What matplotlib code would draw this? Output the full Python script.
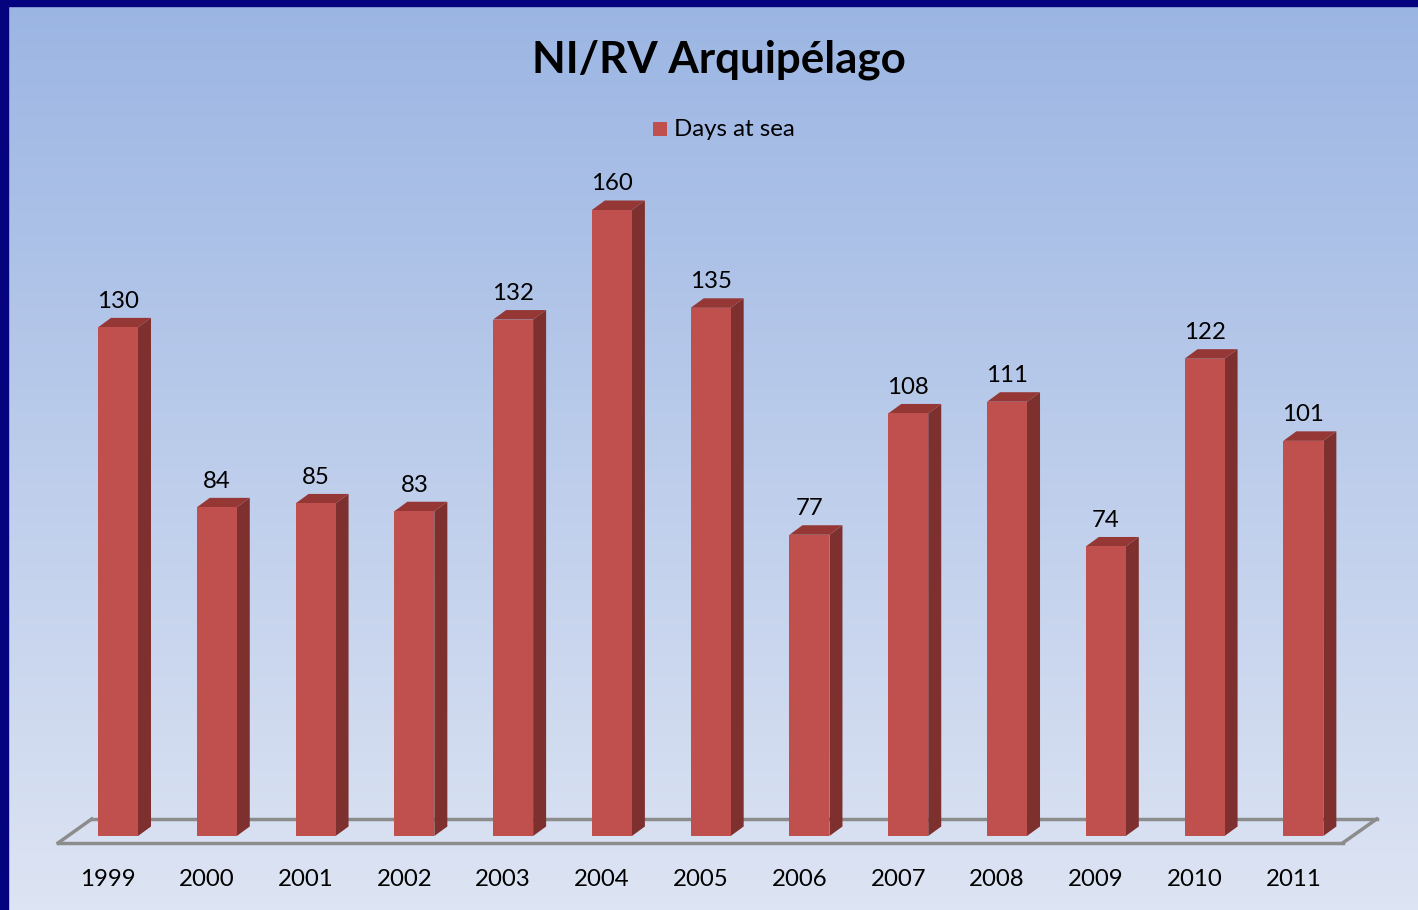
import numpy as np
import matplotlib
matplotlib.use("Agg")
import matplotlib.pyplot as plt
from matplotlib.patches import Polygon, Rectangle
from matplotlib.lines import Line2D

# ---- data ----
years = ["1999", "2000", "2001", "2002", "2003", "2004", "2005",
         "2006", "2007", "2008", "2009", "2010", "2011"]
days_at_sea = [130, 84, 85, 83, 132, 160, 135, 77, 108, 111, 74, 122, 101]
series_name = "Days at sea"
title = "NI/RV Arquipélago"

FONT = ["Lato", "DejaVu Sans"]
plt.rcParams["font.family"] = FONT

W, H, DPI = 1418, 910, 100
fig = plt.figure(figsize=(W / DPI, H / DPI), dpi=DPI)

# gradient background
bg = fig.add_axes([0, 0, 1, 1], zorder=0)
top = np.array([155, 181, 227]) / 255
bot = np.array([221, 228, 243]) / 255
t = np.linspace(0, 1, 256)[:, None]
grad = top[None, :] * (1 - t) + bot[None, :] * t
bg.imshow(grad[:, None, :], aspect="auto", extent=[0, 1, 0, 1])
bg.set_xlim(0, 1); bg.set_ylim(0, 1)
bg.axis("off")
# navy border on top and left
bg.add_patch(Rectangle((0, 1 - 6 / H), 1, 6 / H, color="#06037F", transform=bg.transAxes, zorder=5))
bg.add_patch(Rectangle((0, 0), 8 / W, 1, color="#06037F", transform=bg.transAxes, zorder=5))

# main axes covering the figure; data mapped to pixel layout
ax = fig.add_axes([0, 0, 1, 1], zorder=1)
ax.patch.set_alpha(0)
ppu_x = 98.78
ppu_y = 3.9125
x0_px, y0_px = 118, 836  # pixel of index 0 / value 0 (from top)
ax.set_xlim(-x0_px / ppu_x, (W - x0_px) / ppu_x)
ax.set_ylim(-(H - y0_px) / ppu_y, y0_px / ppu_y)
ax.axis("off")

n = len(years)
x = np.arange(n)
bw = 40 / ppu_x
dx = 13 / ppu_x
dy = 9.5 / ppu_y

# floor
fl_front = -7 / ppu_y
fl_back = 17 / ppu_y
fl = [(-0.607, fl_front), (n - 1 + 0.398, fl_front),
      (n - 1 + 0.742, fl_back), (-0.266, fl_back)]
floor_col = "#8C8C8C"
ax.add_line(Line2D([fl[3][0], fl[2][0]], [fl_back, fl_back], color=floor_col, lw=2.5, zorder=2))
ax.add_line(Line2D([fl[0][0], fl[3][0]], [fl_front, fl_back], color=floor_col, lw=2.5, zorder=2))
ax.add_line(Line2D([fl[1][0], fl[2][0]], [fl_front, fl_back], color=floor_col, lw=2.5, zorder=2))
ax.add_line(Line2D([fl[0][0], fl[1][0]], [fl_front, fl_front], color=floor_col, lw=2.5, zorder=6))

front_c = "#C0504D"
top_c = "#953735"
side_c = "#7E302E"
FS = 17.3
bars = ax.bar(x, days_at_sea, width=bw, color=front_c, zorder=4, linewidth=0)
for xi, v in zip(x, days_at_sea):
    l, r = xi - bw / 2, xi + bw / 2
    ax.add_patch(Polygon([(r, 0), (r + dx, dy), (r + dx, v + dy), (r, v)],
                         closed=True, facecolor=side_c, edgecolor="none", zorder=3))
    ax.add_patch(Polygon([(l, v), (r, v), (r + dx, v + dy), (l + dx, v + dy)],
                         closed=True, facecolor=top_c, edgecolor="none", zorder=3))
    ax.annotate(str(v), (xi, v + dy), xytext=(0, 7.2), textcoords="offset points",
                ha="center", va="baseline", fontsize=FS, color="black", zorder=7)

# category labels
for xi, lab in zip(x, years):
    ax.annotate(lab, (xi - 0.1, 0), xytext=(0, -36), textcoords="offset points",
                ha="center", va="baseline", fontsize=FS, color="black")

# title
fig.text(719 / W, 1 - 72.7 / H, title, ha="center", va="baseline",
         fontsize=31.6, fontweight="bold", color="black")

# legend
fig.patches.append(Rectangle((653 / W, 1 - 136 / H), 14 / W, 14 / H,
                             transform=fig.transFigure, facecolor=front_c,
                             edgecolor="none", figure=fig))
fig.text(674 / W, 1 - 136 / H, series_name, ha="left", va="baseline",
         fontsize=FS, color="black")

fig.savefig("out.png", dpi=DPI)
